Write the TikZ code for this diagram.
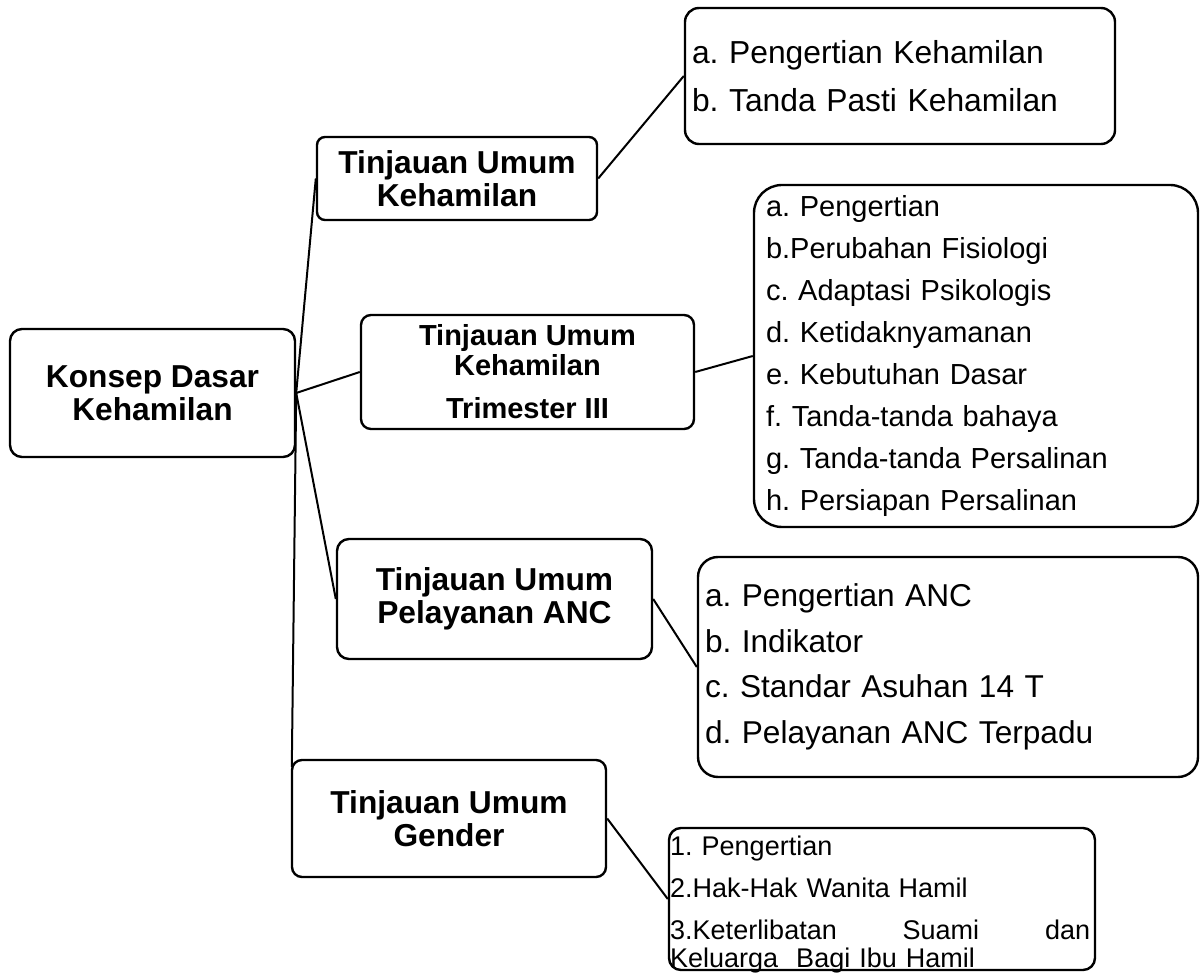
\documentclass[tikz,border=0pt]{standalone}
\usepackage{fontspec}
\setmainfont{Liberation Sans}
\usetikzlibrary{calc}
\frenchspacing
\begin{document}
\begin{tikzpicture}[x=1pt,y=-1pt,
  box/.style={draw, line width=2.4pt, rounded corners=#1, inner sep=0pt},
  head/.style={align=center, font=\fontsize{31.7}{33}\selectfont\bfseries},
  conn/.style={line width=2pt}]
\useasboundingbox (0,0) rectangle (1200,973);

% heading boxes
\node[box=12pt, head, minimum width=285pt, minimum height=128pt] (root) at (152.5,393) {Konsep Dasar\\Kehamilan};
\node[box=8pt, head, minimum width=280pt, minimum height=83pt] (b1) at (457,178.5) {Tinjauan Umum\\Kehamilan};
\node[box=10pt, align=center, font=\fontsize{29}{30}\selectfont\bfseries, minimum width=333pt, minimum height=114pt] (b3) at (527.5,372) {Tinjauan Umum\\Kehamilan\\[13pt]Trimester III};
\node[box=12pt, head, minimum width=315pt, minimum height=120pt] (b4) at (494.5,599) {Tinjauan Umum\\Pelayanan ANC};
\node[box=10pt, head, minimum width=314pt, minimum height=117pt] (b5) at (449,818.5) {Tinjauan Umum\\Gender};

% list boxes
\node[box=14pt, align=left, inner xsep=7pt, text width=416pt, minimum height=136pt, font=\fontsize{31.8}{48}\selectfont] (ab) at (900,76) {a. Pengertian Kehamilan\\b. Tanda Pasti Kehamilan};
\node[box=28pt, align=left, inner xsep=12pt, text width=420pt, minimum height=342pt, font=\fontsize{29}{42}\selectfont] (tl) at (976,356) {a. Pengertian\\b.Perubahan Fisiologi\\c. Adaptasi Psikologis\\d. Ketidaknyamanan\\e. Kebutuhan Dasar\\f. Tanda-tanda bahaya\\g. Tanda-tanda Persalinan\\h. Persiapan Persalinan};
\node[box=20pt, align=left, inner xsep=7pt, text width=486pt, minimum height=220pt, font=\fontsize{31.6}{45.5}\selectfont] (al) at (948,667) {a. Pengertian ANC\\b. Indikator\\c. Standar Asuhan 14 T\\d. Pelayanan ANC Terpadu};
\node[anchor=north west, inner sep=0pt, text width=420pt, align=left, font=\fontsize{27}{42}\selectfont] (glt) at (670,836) {1. Pengertian\\2.Hak-Hak Wanita Hamil\\\makebox[\linewidth]{3.Keterlibatan\hfill Suami\hfill dan}\\[-14pt]Keluarga~~Bagi Ibu Hamil};
\node[box=12pt, minimum width=426pt, minimum height=142pt] (gl) at (882,899) {};

% connectors
\draw[conn] (root.east) -- (b1.west);
\draw[conn] (root.east) -- (b3.west);
\draw[conn] (root.east) -- (b4.west);
\draw[conn] (root.east) -- ($(b5.north west)+(1,8)$);
\draw[conn] (b1.east) -- (ab.west);
\draw[conn] (b3.east) -- (tl.west);
\draw[conn] (b4.east) -- (al.west);
\draw[conn] (b5.east) -- (gl.west);
\end{tikzpicture}
\end{document}
